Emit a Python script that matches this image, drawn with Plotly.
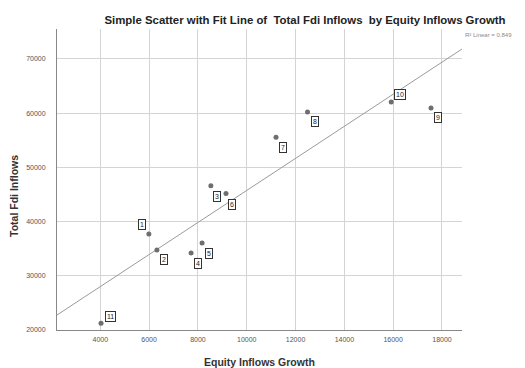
import numpy as np
import plotly.graph_objects as go

# ---- data ----
case_ids = ["1", "2", "3", "4", "5", "6", "7", "8", "9", "10", "11"]
equity_growth = [5990, 6320, 8530, 7720, 8170, 9150, 11200, 12490, 17550, 15920, 4030]
total_fdi = [37700, 34750, 46600, 34200, 36050, 45150, 55550, 60200, 60950, 62050, 21250]
x_ticks = [4000, 6000, 8000, 10000, 12000, 14000, 16000, 18000]
y_ticks = [20000, 30000, 40000, 50000, 60000, 70000]
r2_label = "R² Linear = 0.849"

# label offsets in px (dx right, dy up)
label_dx = [-7, 7, 6, 7, 7, 6, 7, 7, 7, 9, 9]
label_dy = [10, -9, -11, -11, -11, -11, -10, -10, -10, 7, 7]

X_RANGE = [2226, 18820]
Y_RANGE = [20000, 75500]

slope, intercept = np.polyfit(equity_growth, total_fdi, 1)
line_x = np.array(X_RANGE, dtype=float)
line_y = slope * line_x + intercept

FONT = "Arial, Liberation Sans"

fig = go.Figure()
fig.add_trace(go.Scatter(x=line_x, y=line_y, mode="lines",
                         line=dict(color="#9a9a9a", width=1), hoverinfo="skip",
                         showlegend=False))
fig.add_trace(go.Scatter(x=equity_growth, y=total_fdi, mode="markers",
                         marker=dict(color="#6e6e6e", size=5), showlegend=False))

for cid, xv, yv, dx, dy in zip(case_ids, equity_growth, total_fdi, label_dx, label_dy):
    fig.add_annotation(x=xv, y=yv, text=cid, showarrow=False, xshift=dx, yshift=dy,
                       font=dict(family=FONT, size=7, color="#222222"),
                       bordercolor="#333333", borderwidth=1, borderpad=1,
                       bgcolor="white")

fig.update_layout(
    width=525, height=368,
    margin=dict(l=57, r=63, t=29, b=38),
    paper_bgcolor="white", plot_bgcolor="white",
    font=dict(family=FONT, color="#555555"),
    title=dict(text="<b>Simple Scatter with Fit Line of  Total Fdi Inflows  by Equity Inflows Growth</b>",
               x=305/525, xanchor="center", y=1 - 20/368, yanchor="middle",
               font=dict(size=11.4, color="#222222", family=FONT)),
    xaxis=dict(range=X_RANGE, tickvals=x_ticks, tickformat="d", showgrid=True,
               gridcolor="#d4d4d4", gridwidth=1, zeroline=False, showline=True,
               linecolor="#888888", linewidth=1, ticks="", ticklabelstandoff=3,
               tickfont=dict(size=7, color="#555555", family=FONT)),
    yaxis=dict(range=Y_RANGE, tickvals=y_ticks, tickformat="d", showgrid=True,
               gridcolor="#d4d4d4", gridwidth=1, zeroline=False, showline=True,
               linecolor="#888888", linewidth=1, ticks="", ticklabelstandoff=9,
               tickfont=dict(size=7, color="#555555", family=FONT)),
)

# axis titles as annotations for precise placement
fig.add_annotation(text="<b>Equity Inflows Growth</b>", xref="paper", yref="paper",
                   x=(259 - 57) / 405, y=-(361.5 - 330) / 301, showarrow=False,
                   xanchor="center", yanchor="middle",
                   font=dict(size=10.5, color="#333333", family=FONT))
fig.add_annotation(text="<b>Total Fdi Inflows</b>", xref="paper", yref="paper",
                   x=-(57 - 14) / 405, y=(330 - 196) / 301, showarrow=False, textangle=-90,
                   xanchor="center", yanchor="middle",
                   font=dict(size=10.5, color="#333333", family=FONT))
fig.add_annotation(text=r2_label, xref="paper", yref="paper",
                   x=(463 - 57) / 405, y=(330 - 35) / 301, showarrow=False,
                   xanchor="left", yanchor="middle",
                   font=dict(size=6, color="#8a8a8a", family=FONT))

fig.write_html("out.html")
